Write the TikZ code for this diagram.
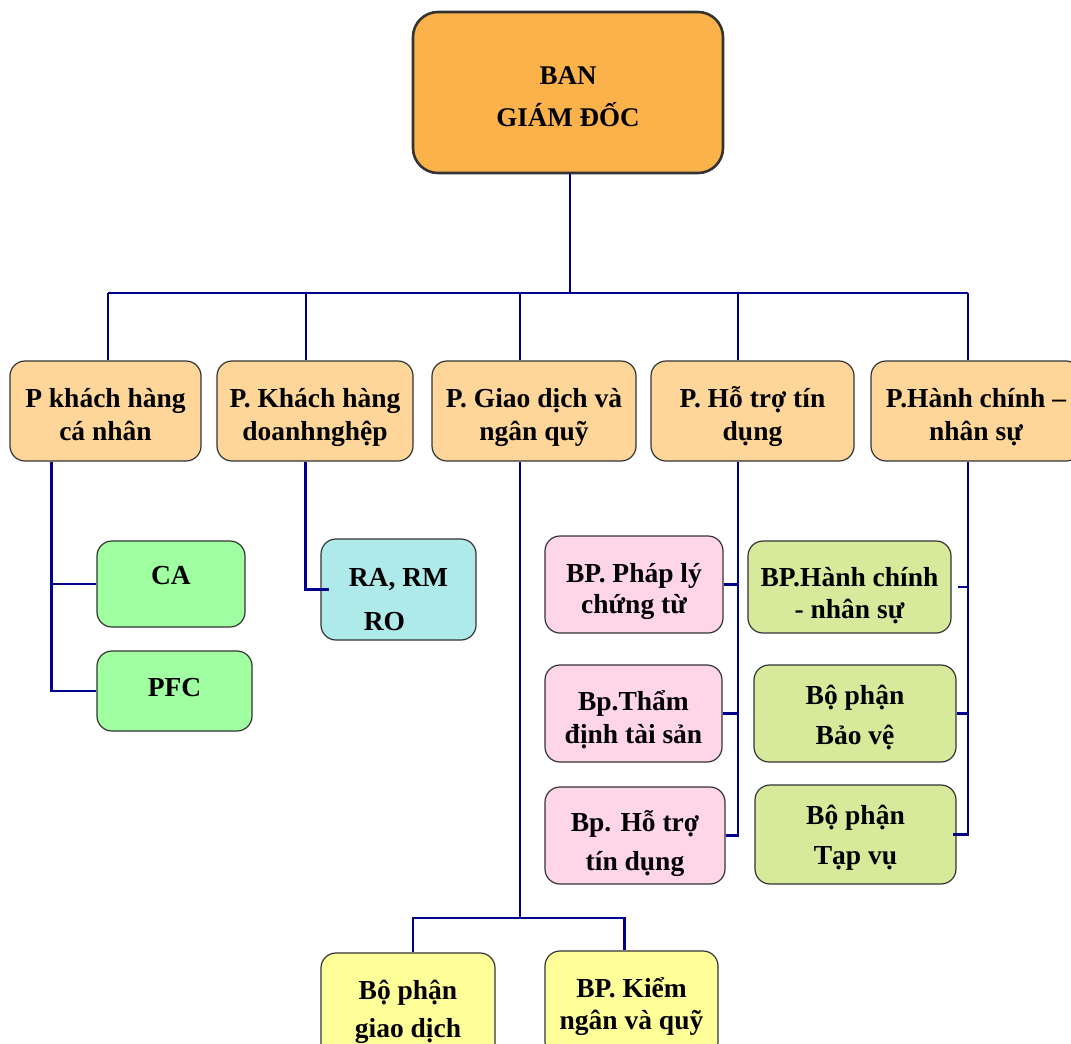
\documentclass[tikz,border=0pt]{standalone}
\usepackage{fontspec}
\setmainfont{Liberation Serif}
\usepackage{tikz}

\definecolor{navyline}{RGB}{0,0,140}
\definecolor{bgdorange}{RGB}{251,178,75}
\definecolor{phongfill}{RGB}{254,214,154}
\definecolor{cagreen}{RGB}{160,255,160}
\definecolor{racyan}{RGB}{175,234,234}
\definecolor{bppink}{RGB}{255,214,232}
\definecolor{hcgreen}{RGB}{215,234,155}
\definecolor{gdyellow}{RGB}{255,255,153}

% struts: top of first line, bottom of last line
\newcommand{\tp}[1]{\rule{0pt}{#1pt}}
\newcommand{\bt}{\rule[-10pt]{0pt}{10pt}}

\begin{document}
\begin{tikzpicture}[x=1pt,y=-1pt,
    box/.style={draw=black!80, line width=1.2pt, rounded corners=15pt, align=center,
        inner sep=0pt, font=\bfseries\fontsize{27.5}{33}\selectfont},
    phong/.style={box, fill=phongfill, minimum height=100pt},
    link/.style={draw=navyline, line width=2.5pt}]
                    \clip (0,0) rectangle (1071,1044);

                    % ban giam doc
                    \node[box, fill=bgdorange, line width=2.6pt, rounded corners=25pt,
                        minimum width=310pt, minimum height=161pt,
                        font=\bfseries\fontsize{27}{42}\selectfont] (bgd) at (568,92.5) {\tp{35}BAN\\GIÁM ĐỐC\bt};

                    % cac phong
                    \node[phong, minimum width=191pt] (p1) at (105.5,411) {\tp{35}P khách hàng\\cá nhân\bt};
                    \node[phong, minimum width=196pt] (p2) at (315,411) {\tp{35}P. Khách hàng\\doanhnghệp\bt};
                    \node[phong, minimum width=204pt] (p3) at (534,411) {\tp{35}P. Giao dịch và\\ngân quỹ\bt};
                    \node[phong, minimum width=203pt] (p4) at (752.5,411) {\tp{35}P. Hỗ trợ tín\\dụng\bt};
                    \node[phong, minimum width=210pt] (p5) at (976,411) {\tp{35}P.Hành chính –\\nhân sự\bt};

                    % bo phan
                    \node[box, fill=cagreen, minimum width=148pt, minimum height=86pt] (ca) at (171,584) {\smash{CA}};
                    \node[box, fill=cagreen, minimum width=155pt, minimum height=80pt] (pfc) at (174.5,691) {\smash{\raisebox{-5pt}{PFC}}};
                    \node[box, fill=racyan, minimum width=155pt, minimum height=97pt, align=left,
                        font=\bfseries\fontsize{27.5}{44}\selectfont] (ra) at (398.5,589.5) {\tp{47}RA, RM\\\hspace*{15pt}RO\bt};

                    \node[box, fill=bppink, minimum width=178pt, minimum height=97pt,
                        font=\bfseries\fontsize{27.5}{31}\selectfont] (pl) at (634,584.5) {\tp{36}BP. Pháp lý\\chứng từ\bt};
                    \node[box, fill=bppink, minimum width=177pt, minimum height=97pt] (td) at (633.5,713.5) {\tp{36}Bp.Thẩm\\định tài sản\bt};
                    \node[box, fill=bppink, minimum width=180pt, minimum height=97pt,
                        font=\bfseries\fontsize{27.5}{39}\selectfont] (ht) at (635,835.5) {\tp{40}Bp. Hỗ trợ\\tín dụng\bt};

                    \node[box, fill=hcgreen, minimum width=203pt, minimum height=92pt,
                        font=\bfseries\fontsize{27.5}{32}\selectfont] (hc) at (849.5,587) {\tp{40}BP.Hành chính\\- nhân sự\bt};
                    \node[box, fill=hcgreen, minimum width=202pt, minimum height=97pt,
                        font=\bfseries\fontsize{27.5}{40}\selectfont] (bv) at (855,713.5) {\tp{31}Bộ phận\\Bảo vệ\bt};
                    \node[box, fill=hcgreen, minimum width=201pt, minimum height=99pt,
                        font=\bfseries\fontsize{27.5}{40}\selectfont] (tv) at (855.5,834.5) {\tp{29}Bộ phận\\Tạp vụ\bt};

                    \node[box, fill=gdyellow, minimum width=174pt, minimum height=112pt,
                        font=\bfseries\fontsize{27.5}{38}\selectfont] (gd) at (408,1009) {\tp{28}Bộ phận\\giao dịch\bt};
                    \node[box, fill=gdyellow, minimum width=173pt, minimum height=106pt,
                        font=\bfseries\fontsize{27.5}{32}\selectfont] (kn) at (631.5,1004) {\tp{28}BP. Kiểm\\ngân và quỹ\bt};

                    % duong noi
                    \coordinate (bus) at (570,293);
                    \coordinate (b1) at (108,293);
                    \coordinate (b2) at (306,293);
                    \coordinate (b3) at (520,293);
                    \coordinate (b4) at (738,293);
                    \coordinate (b5) at (968,293);
                    \draw[link] (bgd.south -| bus) -- (bus);
                    \draw[link] (b1) -- (b5);
                    \foreach \i in {1,...,5}
                        \draw[link] (b\i) -- (b\i |- p\i.north);

                    \draw[link] (p1.south west) ++(42,0) |- (ca.west);
                    \draw[link] (p1.south west) ++(42,0) |- (pfc.west);
                    \draw[link] (p2.south west) ++(89,0) |- ([xshift=9pt]ra.west);

                    \coordinate (g) at (520,918);
                    \draw[link] (g |- p3.south) -- (g);
                    \draw[link] ([xshift=5pt]gd.north) |- (g) -| ([xshift=-7pt]kn.north);

                    \draw[link] (b4 |- p4.south) |- (ht.east);
                    \draw[link] (pl.east) -- (pl.east -| b4);
                    \draw[link] (td.east) -- (td.east -| b4);

                    \draw[link] (b5 |- p5.south) |- ([xshift=-4pt]tv.east);
                    \draw[link] ([xshift=6pt]hc.east) -- (hc.east -| b5);
                    \draw[link] (bv.east) -- (bv.east -| b5);
                \end{tikzpicture}
\end{document}
